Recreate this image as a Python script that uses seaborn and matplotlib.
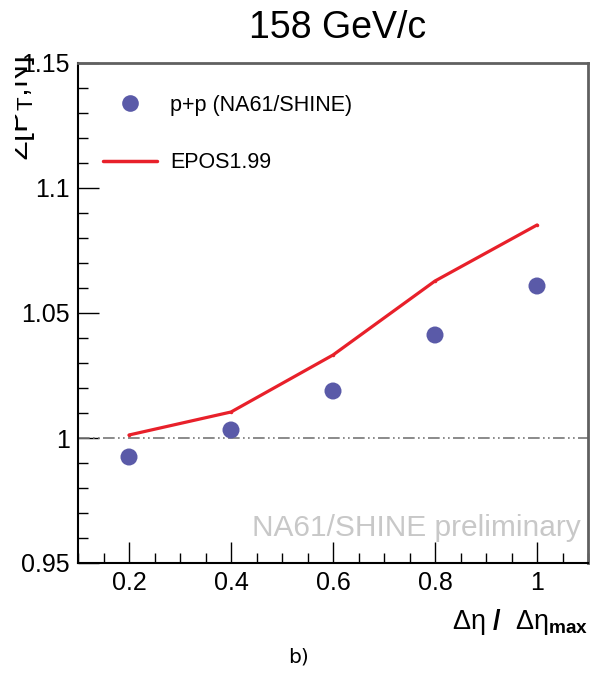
import numpy as np
import pandas as pd
import seaborn as sns
import matplotlib.pyplot as plt
from matplotlib.ticker import MultipleLocator, FuncFormatter
from matplotlib.lines import Line2D
from matplotlib.transforms import Bbox

# data
eta_frac = [0.2, 0.4, 0.6, 0.8, 1.0]
pp_data = [0.9924, 1.0032, 1.0188, 1.0412, 1.0608]
epos = [1.0012, 1.0104, 1.0332, 1.0628, 1.0852]

x_ticks = [0.2, 0.4, 0.6, 0.8, 1.0]
y_ticks = [0.95, 1.0, 1.05, 1.1, 1.15]

df = pd.DataFrame({'frac': eta_frac, 'pp': pp_data, 'epos': epos})

sns.set_style('ticks')
plt.rcParams['font.family'] = ['Liberation Sans', 'DejaVu Sans']
plt.rcParams['mathtext.fontset'] = 'custom'
plt.rcParams['mathtext.rm'] = 'Liberation Sans'
plt.rcParams['mathtext.it'] = 'Liberation Sans'
plt.rcParams['mathtext.bf'] = 'Liberation Sans:bold'
for key in ['text.color', 'axes.labelcolor', 'xtick.color', 'ytick.color']:
    plt.rcParams[key] = 'black'

fig = plt.figure(figsize=(5.95, 6.74), dpi=100)
ax = fig.add_axes([78 / 595, 1 - 563 / 674, 510 / 595, 500 / 674])

blue = '#5a5aa8'
red = '#e8202a'

ax.axhline(1.0, color='#777777', lw=1.2, ls=(0, (7, 2, 1, 2, 1, 2)), zorder=1)
sns.lineplot(data=df, x='frac', y='epos', color=red, lw=2.3, marker='o', markersize=2.5,
             markeredgewidth=0, ax=ax, zorder=2)
sns.scatterplot(data=df, x='frac', y='pp', color=blue, s=150, edgecolor='none', ax=ax, zorder=3)

ax.set_xlim(0.1, 1.1)
ax.set_ylim(0.95, 1.15)
ax.set_xticks(x_ticks)
ax.set_yticks(y_ticks)
ax.xaxis.set_minor_locator(MultipleLocator(0.05))
ax.yaxis.set_minor_locator(MultipleLocator(0.01))
fmt = FuncFormatter(lambda v, p: '%g' % round(v, 3))
ax.xaxis.set_major_formatter(fmt)
ax.yaxis.set_major_formatter(fmt)
ax.tick_params(which='both', direction='in', labelsize=18, width=1, color='black')
ax.tick_params(which='major', length=15, pad=6)
ax.tick_params(which='minor', length=7)
ax.set_xlabel('')
ax.set_ylabel('')

for side in ['left', 'bottom']:
    ax.spines[side].set_color('black')
    ax.spines[side].set_linewidth(1.5)
for side in ['top', 'right']:
    ax.spines[side].set_visible(True)
    ax.spines[side].set_color('#606060')
    ax.spines[side].set_linewidth(2)

handles = [Line2D([], [], ls='none', marker='o', color=blue, markersize=12, markeredgewidth=0),
           Line2D([], [], color=red, lw=2.5)]
ax.legend(handles, ['p+p (NA61/SHINE)', 'EPOS1.99'], loc='upper left',
          bbox_to_anchor=(0.012, 0.975), frameon=False, fontsize=15.5,
          handlelength=2.5, handletextpad=0.6, labelspacing=1.7)

ax.text(0.985, 0.055, 'NA61/SHINE preliminary', transform=ax.transAxes,
        ha='right', va='baseline', fontsize=21.5, color='#c8c8c8')

fig.text(338 / 595, 1 - 28 / 674, '158 GeV/c', ha='center', va='center', fontsize=27)
fig.text(588 / 595, 1 - 622 / 674,
         r'$\Delta\eta$ $\mathbf{/}$  $\Delta\eta_{\mathbf{max}}$',
         ha='right', va='center', fontsize=19.5)
fig.text(298 / 595, 1 - 657 / 674, 'b)', ha='center', va='center', fontsize=14.5,
         family='DejaVu Sans')

# y title: clipped on its left side as in the reference
ylab = fig.text(37 / 595, 1 - 56 / 674, r'$\Sigma$[P$_{T}$,N]', rotation=90,
                ha='right', va='top', fontsize=23)
ylab.set_clip_box(Bbox([[15, 0], [595, 674]]))
ylab.set_clip_on(True)

fig.savefig('out.png', dpi=100)
